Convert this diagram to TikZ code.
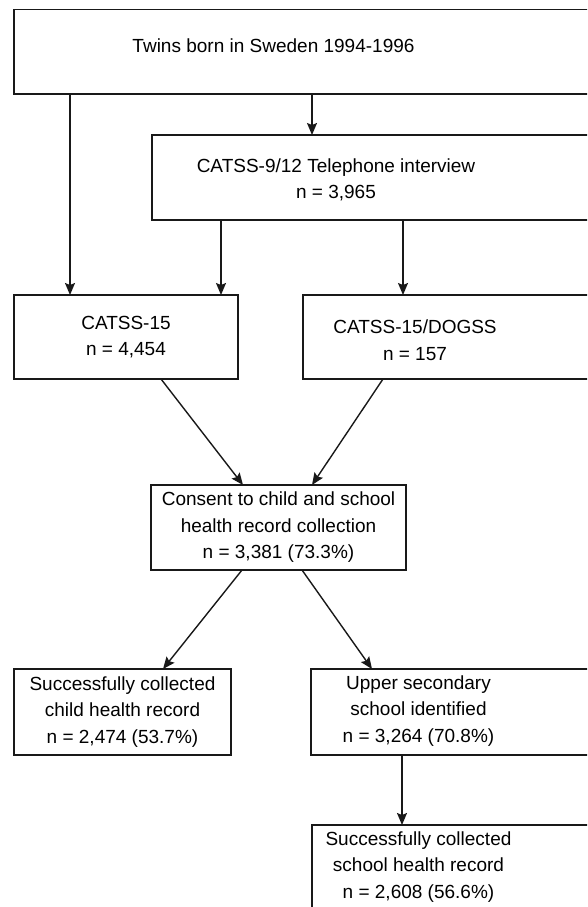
\documentclass[tikz,border=0pt]{standalone}
\usepackage{fontspec}
\setmainfont{Liberation Sans}
\usepackage{xcolor}
\usepackage{tikz}
\usetikzlibrary{arrows.meta,positioning}

\begin{document}
\begin{tikzpicture}[
  x=1pt, y=-1pt,
  box/.style={draw=black!90, line width=1.6pt, anchor=north west, inner sep=0pt, outer sep=0pt, align=center, font=\fontsize{19}{26.5}\selectfont},
  txt/.style={inner sep=0pt, align=center, font=\fontsize{19}{26.5}\selectfont},
  arr/.style={draw=black!90, line width=1.4pt, -{Stealth[length=12pt,width=10pt,inset=2pt]}},
  ]
  \useasboundingbox (0,0) rectangle (587,907);
  \clip (0,0) rectangle (587,907);
  % boxes running off the page on the right
  \node[box, minimum width=600pt, minimum height=84.5pt] (twins) at (14,9.5) {};
  \node[box, minimum width=460pt, minimum height=85pt]   (phone) at (152,135) {};
  \node[box, minimum width=224pt, minimum height=84pt]   (catss) at (14,295) {CATSS-15\\n = 4,454};
  \node[box, minimum width=310pt, minimum height=84pt]   (dogss) at (303,295) {};
  \node[box, minimum width=255pt, minimum height=85pt]   (consent) at (151,485) {Consent to child and school\\health record collection\\n = 3,381 (73.3\%)};
  \node[box, minimum width=217pt, minimum height=86pt]   (child) at (14,669) {Successfully collected\\child health record\\n = 2,474 (53.7\%)};
  \node[box, minimum width=300pt, minimum height=86pt]   (upper) at (311,669) {};
  \node[box, minimum width=300pt, minimum height=100pt]  (school) at (312,825) {};
  % texts of the cut boxes
  \node[txt] (twinstext)  at (273.5,46) {Twins born in Sweden 1994-1996};
  \node[txt] (phonetext)  at (336,180)  {CATSS-9/12 Telephone interview\\n = 3,965};
  \node[txt] (dogsstext)  at (415,340)  {CATSS-15/DOGSS\\n = 157};
  \node[txt] (uppertext)  at (418.5,711) {Upper secondary\\school identified\\n = 3,264 (70.8\%)};
  \node[txt] (schooltext) at (418.5,867) {Successfully collected\\school health record\\n = 2,608 (56.6\%)};
  % arrows
  \draw[arr] ([xshift=56pt]twins.south west)  -- ([xshift=56pt]catss.north west);
  \draw[arr] ([xshift=298pt]twins.south west) -- ([xshift=160pt]phone.north west);
  \draw[arr] ([xshift=69pt]phone.south west)  -- ([xshift=207pt]catss.north west);
  \draw[arr] ([xshift=251pt]phone.south west) -- ([xshift=100pt]dogss.north west);
  \draw[arr] ([xshift=147pt]catss.south west) -- ([xshift=92pt]consent.north west);
  \draw[arr] ([xshift=80pt]dogss.south west)  -- ([xshift=161pt]consent.north west);
  \draw[arr] ([xshift=91pt]consent.south west)  -- ([xshift=149pt]child.north west);
  \draw[arr] ([xshift=151pt]consent.south west) -- ([xshift=61pt]upper.north west);
  \draw[arr] ([xshift=91pt]upper.south west)  -- ([xshift=90pt]school.north west);
\end{tikzpicture}
\end{document}
